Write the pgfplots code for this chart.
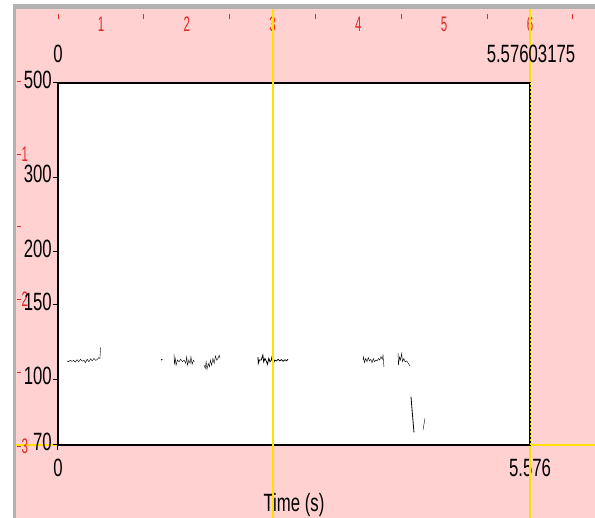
\documentclass[border=0pt]{standalone}
\usepackage{fontspec}
\setmainfont{Liberation Sans}[FakeStretch=0.67]
\newfontfamily\rulerfam{Liberation Sans}[FakeStretch=0.55]
\usepackage{pgfplots}
\pgfplotsset{compat=1.18}
\definecolor{praatpink}{RGB}{255,209,209}
\definecolor{framegray}{RGB}{178,178,178}
\definecolor{rulerred}{RGB}{228,40,40}
\definecolor{selyellow}{RGB}{255,225,0}
\newcommand{\lblfont}{\fontsize{25}{30}\selectfont}
\newcommand{\rulfont}{\rulerfam\fontsize{21}{25}\selectfont}
\begin{document}
\begin{tikzpicture}[x=1pt,y=1pt]
\useasboundingbox (0,0) rectangle (595,-518);
\fill[white] (0,0) rectangle (595,-518);
\fill[framegray] (13,-4) rectangle (595,-518);
\fill[praatpink] (16,-9) rectangle (595,-518);
% yellow selection line (behind)
\draw[selyellow,line width=1.3pt] (16,-445) -- (595,-445);
% ruler top
\foreach \x in {58.1,143.9,229.7,315.5,401.3,487.1,572.9} \draw[rulerred,line width=0.9pt] (\x,-14) -- (\x,-19);
\foreach \x/\n in {101/1,186.8/2,272.6/3,358.4/4,444.2/5,530/6} \node[rulerred,anchor=base,inner sep=0pt,font=\rulfont] at (\x,-32) {\n};
% ruler left
\foreach \y in {81,226.5,372} \draw[rulerred,line width=0.9pt] (17,-\y) -- (20.5,-\y);
\foreach \y/\n in {154/1,299.5/2,446/3} {\draw[rulerred,line width=0.9pt] (17,-\y) -- (20.5,-\y);
  \node[rulerred,anchor=west,inner sep=0pt,font=\rulfont] at (21.5,-\y) {\n};}
\begin{axis}[
  at={(58pt,-445pt)}, anchor=south west,
  scale only axis, width=472pt, height=362pt,
  xmin=0, xmax=5.57603175, ymode=log, ymin=70, ymax=500,
  axis background/.style={fill=white},
  axis line style={line width=2.4pt, black},
  xtick={0,5.57603175}, xticklabels={0,5.576},
  ytick={70,100,150,200,300,500}, yticklabels={70,100,150,200,300,500},
  xminorticks=false, yminorticks=false,
  tick align=outside, xtick pos=bottom, ytick pos=left,
  major tick length=5pt, tick style={black, line width=1pt},
  ticklabel style={font=\lblfont, inner sep=1pt},
  xticklabel style={yshift=-8pt},
  yticklabel style={yshift=3pt},
  /pgf/number format/assume math mode=true,
  xlabel={Time (s)},
  xlabel style={font=\lblfont, inner sep=0pt, at={(axis description cs:0.5,0)}, anchor=base, yshift=-67pt},
  cycle list={{black, line width=0.8pt, mark=none}},
]
\addplot coordinates {(0.106,110.5)(0.125,110)(0.145,111)(0.165,110.2)(0.185,110.8)(0.205,109.8)(0.225,111.2)(0.245,110)(0.265,111.5)(0.285,110.3)(0.305,111)(0.325,109.5)(0.345,111.5)(0.365,110)(0.385,111.8)(0.405,110.5)(0.425,112)(0.445,110.8)(0.465,111.5)(0.48,112.5)(0.495,112)(0.500,116)(0.505,119)};
\addplot coordinates {(1.218,111)(1.232,111.6)};
\addplot coordinates {(1.37,115)(1.375,109)(1.385,112)(1.395,108)(1.41,111)(1.43,110)(1.45,111.5)(1.47,110)(1.49,111)(1.51,109)(1.52,113)(1.53,108)(1.545,111)(1.56,109)(1.57,113)(1.585,108.5)(1.6,111)(1.61,110)};
\addplot coordinates {(1.725,108)(1.74,106)(1.75,110)(1.76,105.5)(1.775,109)(1.79,107)(1.80,111)(1.815,108)(1.83,112)(1.845,109)(1.86,113.5)(1.875,111)(1.89,112)(1.905,114)(1.914,112)};
\addplot coordinates {(2.363,113)(2.366,109)(2.38,111)(2.40,111)(2.42,114)(2.43,110)(2.445,112)(2.46,110.5)(2.475,108.5)(2.49,112)(2.505,110)(2.52,111)(2.53,113.5)(2.545,109)(2.56,111)(2.58,110.5)(2.60,111.5)(2.62,110.5)(2.64,111.3)(2.66,110.3)(2.68,111.2)(2.70,110.6)(2.717,111.5)};
\addplot coordinates {(3.603,111)(3.61,113)(3.62,109.5)(3.635,112)(3.65,110)(3.665,112.5)(3.68,110.5)(3.695,111.5)(3.71,109.5)(3.725,112)(3.74,110)(3.755,111)(3.77,110.5)(3.785,112)(3.80,111)(3.815,113)(3.83,111.5)(3.84,114)(3.845,110)(3.851,107)};
\addplot coordinates {(4.017,115.5)(4.022,108)(4.035,113)(4.045,111)(4.06,115)(4.07,110)(4.085,112)(4.10,110)(4.12,110.5)(4.14,109)(4.158,107.5)};
\addplot coordinates {(4.17,91)(4.18,86)(4.19,81.5)(4.198,78)(4.205,75)};
\addplot coordinates {(4.312,76)(4.324,78.5)(4.336,81)};
\end{axis}
\draw[selyellow,line width=1.3pt] (273,-9) -- (273,-518);
\draw[selyellow,line width=1.3pt] (530,-9) -- (530,-82);
\draw[selyellow,line width=1.3pt] (530,-446) -- (530,-518);
\draw[selyellow,line width=0.8pt,dash pattern=on 2pt off 2pt] (530,-83) -- (530,-445);
\node[anchor=base,inner sep=0pt,font=\lblfont] at (58,-63) {0};
\node[anchor=base,inner sep=0pt,font=\lblfont] at (531,-63) {5.57603175};
\end{tikzpicture}
\end{document}
